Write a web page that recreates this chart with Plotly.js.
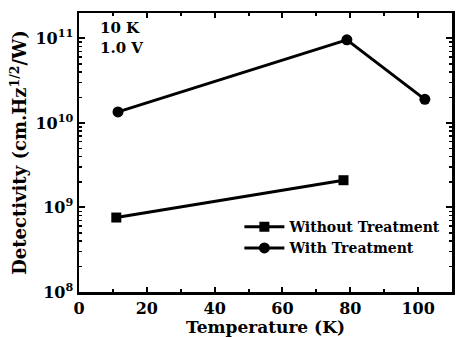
<!DOCTYPE html>
<html>
<head>
<meta charset="utf-8">
<script src="https://cdn.plot.ly/plotly-3.0.1.min.js"></script>
<style>html,body{margin:0;padding:0;background:#fff;}#chart{width:458px;height:337px;}</style>
</head>
<body>
<div id="chart"></div>
<script>
var withoutT = [11, 78];
var withoutD = [7.6e8, 2.1e9];
var withT = [11.5, 79, 102];
var withD = [1.35e10, 9.6e10, 1.9e10];
var seriesNames = ["Without Treatment", "With Treatment"];
var yTickVals = [1e8, 1e9, 1e10, 1e11];
var yTickText = ["<b>10<sup>8</sup></b>", "<b>10<sup>9</sup></b>", "<b>10<sup>10</sup></b>", "<b>10<sup>11</sup></b>"];
var xTickVals = [0, 20, 40, 60, 80, 100];
var xTickText = ["<b>0</b>", "<b>20</b>", "<b>40</b>", "<b>60</b>", "<b>80</b>", "<b>100</b>"];

var minorY = [];
for (var e = 8; e <= 11; e++) { for (var k = 2; k <= 9; k++) { minorY.push(k * Math.pow(10, e)); } }

var font = "DejaVu Serif, serif";
var traces = [
  {x: withoutT, y: withoutD, name: "<b>" + seriesNames[0] + "</b>", mode: "lines+markers",
   line: {color: "#000", width: 3}, marker: {symbol: "square", size: 10, color: "#000"}},
  {x: withT, y: withD, name: "<b>" + seriesNames[1] + "</b>", mode: "lines+markers",
   line: {color: "#000", width: 3}, marker: {symbol: "circle", size: 11, color: "#000"}}
];
var layout = {
  width: 458, height: 337,
  margin: {l: 79, r: 6, t: 13, b: 45},
  paper_bgcolor: "#fff", plot_bgcolor: "#fff",
  font: {family: font, color: "#000", size: 16, weight: "bold"},
  showlegend: true,
  legend: {x: 0.43, y: 0.1, xanchor: "left", yanchor: "bottom", bgcolor: "rgba(0,0,0,0)",
    font: {family: font, size: 14, weight: "bold", color: "#000"}, tracegroupgap: 0, itemwidth: 40},
  xaxis: {range: [0, 110], tickmode: "array", tickvals: xTickVals, ticktext: xTickText,
    showline: true, linewidth: 2.5, linecolor: "#000", mirror: "ticks",
    ticks: "inside", ticklen: 5, tickwidth: 2, tickcolor: "#000",
    minor: {dtick: 10, tick0: 0, ticks: "inside", ticklen: 3, tickwidth: 2, tickcolor: "#000"},
    showgrid: false, zeroline: false,
    tickfont: {family: font, size: 16, weight: "bold", color: "#000"},
    title: {text: "<b>Temperature (K)</b>", font: {family: font, size: 17, weight: "bold", color: "#000"}, standoff: 6}},
  yaxis: {type: "log", range: [8, 11.3], tickmode: "array", tickvals: yTickVals, ticktext: yTickText,
    showline: true, linewidth: 2.5, linecolor: "#000", mirror: "ticks",
    ticks: "inside", ticklen: 6, tickwidth: 2, tickcolor: "#000",
    minor: {tickmode: "array", tickvals: minorY, ticks: "inside", ticklen: 3, tickwidth: 1.5, tickcolor: "#000"},
    showgrid: false, zeroline: false,
    tickfont: {family: font, size: 16, weight: "bold", color: "#000"},
    title: {text: "<b>Detectivity (cm.Hz<sup>1/2</sup>/W)</b>", font: {family: font, size: 18, weight: "bold", color: "#000"}, standoff: 4}},
  annotations: [
    {text: "<b>10 K<br>1.0 V</b>", xref: "paper", yref: "paper", x: 0.05, y: 0.985, xanchor: "left", yanchor: "top",
     showarrow: false, align: "left", font: {family: font, size: 15, weight: "bold", color: "#000"}}
  ]
};
Plotly.newPlot("chart", traces, layout, {displayModeBar: false, staticPlot: true});
</script>
</body>
</html>
